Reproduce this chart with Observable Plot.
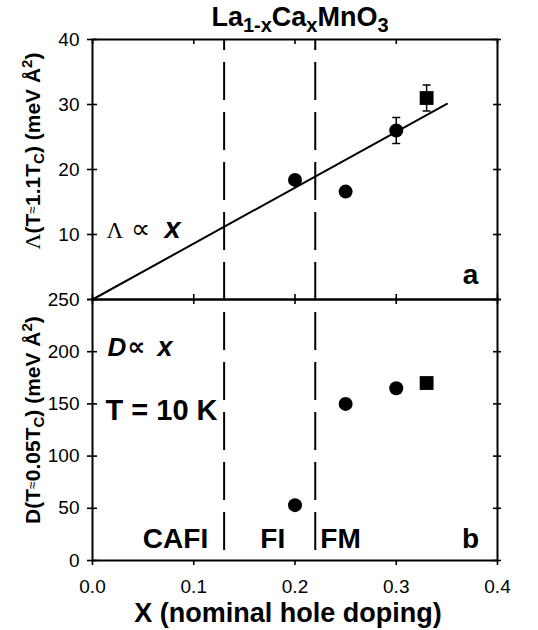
<!DOCTYPE html>
<html>
<head>
<meta charset="utf-8">
<script src="https://cdn.jsdelivr.net/npm/d3@7"></script>
<script src="https://cdn.jsdelivr.net/npm/@observablehq/plot@0.6"></script>
<style>
  html, body { margin: 0; padding: 0; background: #fff; }
  #chart { position: relative; width: 538px; height: 630px; overflow: hidden; background: #fff; }
  #chart svg { position: absolute; left: 0; overflow: visible; background: transparent; }
  #title { position: absolute; left: 0; top: 4px; width: 600px; text-align: center;
           font: bold 27px "Liberation Sans", Arial, sans-serif; line-height: 27px; color: #000; white-space: nowrap; }
  #title sub { font-size: 20px; vertical-align: -6px; line-height: 0; }
</style>
</head>
<body>
<div id="chart"><div id="title">La<sub>1-x</sub>Ca<sub>x</sub>MnO<sub>3</sub></div></div>
<script>
// ---------------- data ----------------
const xTicks = [0, 0.1, 0.2, 0.3, 0.4];
const lambdaTicks = [0, 10, 20, 30, 40];
const lambdaTickLabels = [10, 20, 30, 40];
const dTicks = [0, 50, 100, 150, 200, 250];
const phaseBoundaries = [0.13, 0.22];
const circleDoping = [0.20, 0.25, 0.30];
const squareDoping = [0.33];
const lambdaCircle = [18.4, 16.6, 26.0];
const lambdaSquare = [31.0];
const lambdaErrDoping = [0.30, 0.33];
const lambdaErrLow = [24.0, 29.0];
const lambdaErrHigh = [28.0, 33.0];
const fitDoping = [0, 0.35];
const fitLambda = [0, 30.1];
const dCircle = [53, 150, 165];
const dSquare = [170];
const phaseNames = ["CAFI", "FI", "FM"];
const phaseLabelX = [0.082, 0.178, 0.245];

// ---------------- layout ----------------
const W = 538, ML = 92, MR = 41, PW = W - ML - MR;
const topH = 305, topMT = 39, topMB = 6, topPH = topH - topMT - topMB;
const botTop = 290, botH = 340, botMT = 9, botMB = 70, botPH = botH - botMT - botMB;
const sans = "'Liberation Sans', Arial, Helvetica, sans-serif";
const serif = "'Liberation Serif', 'Times New Roman', serif";
const baseStyle = {fontFamily: sans, fontSize: "19px", color: "black", background: "transparent", overflow: "visible"};

const circlesTop = circleDoping.map((x, i) => ({x, y: lambdaCircle[i]}));
const squaresTop = squareDoping.map((x, i) => ({x, y: lambdaSquare[i]}));
const errTop = lambdaErrDoping.map((x, i) => ({x, lo: lambdaErrLow[i], hi: lambdaErrHigh[i]}));
const capsTop = errTop.flatMap(d => [{x: d.x, y: d.lo}, {x: d.x, y: d.hi}]);
const fitLine = fitDoping.map((x, i) => ({x, y: fitLambda[i]}));
const circlesBot = circleDoping.map((x, i) => ({x, y: dCircle[i]}));
const squaresBot = squareDoping.map((x, i) => ({x, y: dSquare[i]}));
const phases = phaseNames.map((label, i) => ({label, x: phaseLabelX[i]}));

const capSymbol = {draw(ctx) { ctx.moveTo(-4, 0); ctx.lineTo(4, 0); }};

function yCrossTicks(values) {
  return [
    Plot.tickY(values, {y: d => d, insetLeft: -5, insetRight: PW - 5, strokeWidth: 1.6}),
    Plot.tickY(values, {y: d => d, insetLeft: PW - 4, insetRight: -4, strokeWidth: 1.6})
  ];
}

// ---------------- top panel ----------------
const topPlot = Plot.plot({
  width: W, height: topH,
  marginLeft: ML, marginRight: MR, marginTop: topMT, marginBottom: topMB,
  x: {domain: [0, 0.4], axis: null},
  y: {domain: [0, 40], axis: null},
  style: baseStyle,
  marks: [
    Plot.ruleX(phaseBoundaries, {x: d => d, strokeWidth: 2, strokeDasharray: "38,12", strokeDashoffset: 27}),
    Plot.line(fitLine, {x: "x", y: "y", strokeWidth: 2}),
    Plot.ruleX(errTop, {x: "x", y1: "lo", y2: "hi", strokeWidth: 1.5}),
    Plot.dot(capsTop, {x: "x", y: "y", symbol: capSymbol, stroke: "black", strokeWidth: 1.5}),
    Plot.dot(circlesTop, {x: "x", y: "y", r: 7, fill: "black", stroke: "none"}),
    Plot.dot(squaresTop, {x: "x", y: "y", symbol: "square", r: 7.8, fill: "black", stroke: "none"}),
    ...yCrossTicks(lambdaTicks),
    Plot.tickX(xTicks, {x: d => d, insetTop: 0, insetBottom: topPH - 5, strokeWidth: 1.6}),
    Plot.tickX(xTicks, {x: d => d, insetTop: topPH - 5, insetBottom: 0, strokeWidth: 1.6}),
    Plot.axisY(lambdaTickLabels, {tickSize: 0, tickPadding: 13, fontSize: 19, label: null}),
    Plot.text(["Λ"], {frameAnchor: "top-left", dx: 14, dy: 198, textAnchor: "start", lineAnchor: "bottom", fontFamily: serif, fontSize: 23}),
    Plot.text(["∝"], {frameAnchor: "top-left", dx: 38, dy: 198, textAnchor: "start", lineAnchor: "bottom", fontFamily: serif, fontSize: 27}),
    Plot.text(["x"], {frameAnchor: "top-left", dx: 72, dy: 198, textAnchor: "start", lineAnchor: "bottom", fontFamily: sans, fontSize: 29, fontWeight: "bold", fontStyle: "italic"}),
    Plot.text(["a"], {frameAnchor: "bottom-right", dx: -27, dy: -16, textAnchor: "middle", lineAnchor: "bottom", fontSize: 28, fontWeight: "bold"}),
    Plot.frame({strokeWidth: 2})
  ]
});

// ---------------- bottom panel ----------------
const botPlot = Plot.plot({
  width: W, height: botH,
  marginLeft: ML, marginRight: MR, marginTop: botMT, marginBottom: botMB,
  x: {domain: [0, 0.4], axis: null},
  y: {domain: [0, 250], axis: null},
  style: baseStyle,
  marks: [
    Plot.ruleX(phaseBoundaries, {x: d => d, strokeWidth: 2, strokeDasharray: "38,12", strokeDashoffset: 37}),
    Plot.dot(circlesBot, {x: "x", y: "y", r: 7, fill: "black", stroke: "none"}),
    Plot.dot(squaresBot, {x: "x", y: "y", symbol: "square", r: 7.8, fill: "black", stroke: "none"}),
    ...yCrossTicks(dTicks),
    Plot.tickX(xTicks, {x: d => d, insetTop: 0, insetBottom: botPH - 5, strokeWidth: 1.6}),
    Plot.tickX(xTicks, {x: d => d, insetTop: botPH, insetBottom: -5, strokeWidth: 1.6}),
    Plot.axisY(dTicks, {tickSize: 0, tickPadding: 13, fontSize: 19, label: null}),
    Plot.axisX(xTicks, {tickSize: 0, tickPadding: 19, fontSize: 19, tickFormat: ".1f", label: null}),
    Plot.text(["X (nominal hole doping)"], {frameAnchor: "bottom", dx: -7, dy: 61, textAnchor: "middle", lineAnchor: "bottom", fontSize: 27, fontWeight: "bold"}),
    Plot.text(phases, {x: "x", text: "label", frameAnchor: "bottom", dy: -13, textAnchor: "middle", lineAnchor: "bottom", fontSize: 28, fontWeight: "bold"}),
    Plot.text(["D"], {frameAnchor: "top-left", dx: 15, dy: 56, textAnchor: "start", lineAnchor: "bottom", fontSize: 26, fontWeight: "bold", fontStyle: "italic"}),
    Plot.text(["∝"], {frameAnchor: "top-left", dx: 35, dy: 55, textAnchor: "start", lineAnchor: "bottom", fontFamily: "'DejaVu Sans', sans-serif", fontSize: 25, fontWeight: "bold"}),
    Plot.text(["x"], {frameAnchor: "top-left", dx: 65, dy: 56, textAnchor: "start", lineAnchor: "bottom", fontSize: 27, fontWeight: "bold", fontStyle: "italic"}),
    Plot.text(["T = 10 K"], {frameAnchor: "top-left", dx: 13, dy: 120, textAnchor: "start", lineAnchor: "bottom", fontSize: 29, fontWeight: "bold"}),
    Plot.text(["b"], {frameAnchor: "bottom-right", dx: -27, dy: -13, textAnchor: "middle", lineAnchor: "bottom", fontSize: 28, fontWeight: "bold"}),
    Plot.frame({strokeWidth: 2})
  ]
});

const chart = document.getElementById("chart");
botPlot.style.top = botTop + "px";
topPlot.style.top = "0px";
chart.appendChild(botPlot);
chart.appendChild(topPlot);

// ---------------- rotated y-axis titles with sub/superscripts ----------------
function yTitle(svg, cx, cy, lead, leadSerif, mid) {
  const t = d3.select(svg).append("text")
    .attr("transform", `translate(${cx},${cy}) rotate(-90)`)
    .attr("text-anchor", "middle")
    .attr("font-family", sans).attr("font-weight", "bold").attr("font-size", 21).attr("fill", "black");
  const a = t.append("tspan").text(lead);
  if (leadSerif) a.attr("font-family", serif).attr("font-weight", "normal").attr("font-size", 22);
  t.append("tspan").text("(T");
  t.append("tspan").attr("font-size", 14).attr("font-weight", "normal").attr("dy", -3).text("≈");
  t.append("tspan").attr("dy", 3).text(mid + "T");
  t.append("tspan").attr("font-size", 15).attr("dy", 4).text("C");
  t.append("tspan").attr("dy", -4).text(") (meV Å");
  t.append("tspan").attr("font-size", 15).attr("dy", -8).text("2");
  t.append("tspan").attr("dy", 8).text(")");
}
yTitle(topPlot, 40, 151, "Λ", true, "1.1");
yTitle(botPlot, 40, 420 - botTop, "D", false, "0.05");
</script>
</body>
</html>
